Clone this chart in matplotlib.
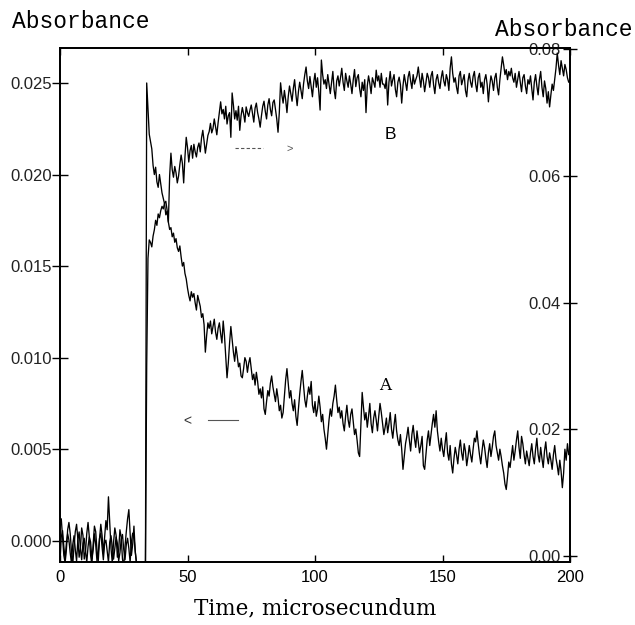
import numpy as np
import matplotlib
matplotlib.use("Agg")
import matplotlib.pyplot as plt
from matplotlib.ticker import FormatStrFormatter

# ---------------- data (absorbance values in units of 1e-4) ----------------
# pre-flash baselines, t = 0 ... 30 us, step 0.5
baseline_time = np.arange(0, 30.01, 0.5)
a_baseline_e4 = [8, 12, 2, -8, -12, -5, 6, 10, 4, -6,
                 -13, -3, 5, 9, 1, -9, -4, 7, 3, -10,
                 -6, 4, 10, 2, -8, -13, -2, 8, 5, -5,
                 -11, 1, 9, 3, -7, 2, 11, 6, 24, 10,
                 -4, -12, -1, 7, 3, -9, -5, 6, 2, -10,
                 -14, -3, 5, 12, 17, 4, -8, -2, 8, -6,
                 -12]
b_baseline_e4 = [-10, 30, 40, 15, -5, 20, 35, 25, 5, -12,
                 18, 32, 10, -8, 25, 38, 12, -6, 20, 28,
                 8, -10, 15, 30, 22, -4, 10, 35, 18, -8,
                 5, 28, 36, 14, -6, 20, 25, 8, -10, 22,
                 32, 15, -5, 12, 30, 20, -8, 5, 26, 34,
                 10, -6, 18, 28, 12, -10, 22, 36, 30, 8,
                 -12]

# transients after the flash, t = 33.5 ... 200 us, step 0.5
time = np.arange(33.5, 200.01, 0.5)
# curve A (left axis)
a_e4 = [-20,
        250, 236, 222, 218, 214, 205, 200, 204, 196, 193, 200, 195, 190, 187, 184, 178, 180, 174, 170, 171,
        166, 168, 163, 165, 160, 158, 161, 155, 150, 152, 146, 143, 138, 134, 131, 136, 133, 135, 130, 126,
        134, 131, 128, 122, 124, 118, 103, 112, 119, 116, 120, 113, 117, 121, 114, 110, 116, 119, 113, 108,
        120, 112, 100, 89, 97, 108, 117, 110, 103, 98, 106, 101, 95, 97, 90, 89, 94, 100, 98, 92,
        97, 100, 94, 88, 91, 85, 92, 87, 80, 83, 78, 84, 72, 69, 76, 82, 79, 86, 90, 84,
        80, 76, 83, 78, 71, 74, 67, 70, 79, 88, 94, 86, 78, 82, 75, 71, 77, 68, 63, 72,
        80, 87, 93, 85, 77, 73, 79, 84, 80, 87, 74, 70, 76, 68, 72, 79, 73, 65, 69, 61,
        56, 50, 58, 66, 72, 68, 75, 79, 85, 77, 70, 73, 67, 71, 64, 60, 68, 74, 66, 62,
        69, 72, 65, 58, 61, 55, 48, 46, 63, 81, 73, 66, 70, 62, 68, 75, 64, 59, 67, 71,
        66, 60, 68, 75, 70, 64, 58, 62, 67, 59, 64, 70, 61, 56, 63, 69, 60, 55, 52, 58,
        50, 39, 46, 53, 57, 62, 55, 49, 58, 63, 56, 51, 60, 54, 48, 52, 57, 41, 39, 47,
        55, 60, 52, 58, 64, 69, 62, 71, 60, 54, 49, 56, 50, 46, 53, 59, 48, 44, 52, 42,
        37, 45, 51, 47, 42, 50, 55, 48, 44, 53, 49, 41, 46, 52, 47, 43, 50, 56, 54, 60,
        53, 47, 42, 49, 55, 51, 45, 40, 48, 53, 46, 51, 57, 60, 52, 48, 44, 50, 46, 41,
        37, 31, 28, 35, 43, 40, 46, 52, 44, 49, 55, 60, 51, 45, 57, 53, 47, 42, 49, 45,
        41, 48, 53, 46, 42, 50, 56, 47, 43, 51, 45, 40, 49, 54, 46, 42, 48, 44, 39, 47,
        52, 45, 41, 36, 44, 38, 29, 37, 50, 44, 53, 47, 48]
# curve B (right axis)
b_e4 = [-20,
        300, 470, 499, 495, 488, 505, 515, 530, 522, 540, 534, 545, 552, 548, 557, 560, 546, 527, 600, 636,
        610, 598, 615, 605, 589, 600, 618, 633, 620, 589, 630, 661, 645, 622, 640, 648, 628, 650, 638, 630,
        645, 652, 638, 660, 672, 655, 636, 650, 664, 670, 683, 668, 675, 690, 678, 665, 684, 700, 717, 698,
        705, 690, 710, 682, 695, 700, 661, 731, 712, 690, 703, 688, 710, 672, 695, 708, 698, 685, 709, 700,
        694, 704, 712, 698, 685, 707, 715, 700, 690, 677, 695, 710, 718, 702, 690, 712, 722, 705, 695, 716,
        720, 705, 690, 669, 700, 747, 728, 715, 735, 720, 700, 725, 742, 730, 718, 738, 752, 729, 711, 733,
        748, 735, 722, 745, 760, 772, 750, 738, 757, 741, 725, 748, 762, 740, 755, 732, 704, 783, 760, 745,
        752, 738, 760, 745, 730, 748, 765, 736, 722, 750, 758, 742, 755, 770, 748, 735, 762, 750, 740, 758,
        745, 730, 752, 768, 741, 755, 760, 738, 725, 748, 735, 752, 700, 742, 758, 746, 730, 755, 748, 740,
        767, 750, 758, 740, 762, 745, 745, 738, 755, 712, 748, 765, 742, 752, 760, 737, 725, 748, 756, 744,
        715, 742, 760, 748, 735, 756, 765, 750, 738, 760, 745, 752, 758, 772, 755, 740, 762, 750, 733, 748,
        762, 755, 740, 758, 765, 744, 730, 752, 760, 747, 738, 755, 766, 750, 742, 760, 752, 735, 770, 788,
        762, 748, 755, 740, 730, 758, 765, 744, 752, 760, 735, 725, 750, 762, 748, 740, 757, 765, 745, 733,
        755, 762, 740, 748, 730, 752, 760, 745, 717, 742, 758, 750, 735, 755, 762, 740, 728, 752, 770, 788,
        775, 760, 768, 752, 765, 758, 770, 755, 748, 762, 740, 752, 765, 748, 733, 755, 760, 742, 730, 752,
        745, 758, 738, 720, 748, 760, 742, 728, 752, 765, 740, 725, 750, 738, 715, 733, 709, 728, 745, 735,
        752, 770, 794, 775, 760, 782, 770, 758, 776, 768, 755, 748, 748]

x_ticks = [0, 50, 100, 150, 200]
left_ticks = [0.000, 0.005, 0.010, 0.015, 0.020, 0.025]
right_ticks = [0.00, 0.02, 0.04, 0.06, 0.08]

# ---------------- figure ----------------
SCALE = 1e-4
fig = plt.figure(figsize=(6.35, 6.25), dpi=100)
ax = fig.add_axes([60 / 635, 1 - 562 / 625, 510 / 635, 514 / 625])
ax2 = ax.twinx()

lw = 0.95
ax.plot(baseline_time, np.array(a_baseline_e4) * SCALE, color="black", lw=lw)
ax.plot(time, np.array(a_e4) * SCALE, color="black", lw=lw)
ax2.plot(baseline_time, np.array(b_baseline_e4) * SCALE, color="black", lw=lw)
ax2.plot(time, np.array(b_e4) * SCALE, color="black", lw=lw)

ax.set_xlim(0, 200)
ax.set_ylim(-0.00116, 0.02691)
ax2.set_ylim(-0.00095, 0.0802)

tick_font = dict(family="Liberation Sans", size=12)
ax.set_xticks(x_ticks)
ax.set_xticklabels([str(v) for v in x_ticks], fontdict=tick_font)
ax.set_yticks(left_ticks)
ax.yaxis.set_major_formatter(FormatStrFormatter("%.3f"))
ax2.set_yticks(right_ticks)
ax2.yaxis.set_major_formatter(FormatStrFormatter("%.2f"))
for lab in ax.get_yticklabels():
    lab.set_fontfamily("Liberation Sans")
    lab.set_fontsize(12)
for lab in ax2.get_yticklabels():
    lab.set_fontfamily("Liberation Sans")
    lab.set_fontsize(12)
    lab.set_horizontalalignment("right")

ax.tick_params(axis="x", direction="in", length=5, width=1, top=True, pad=5.5, colors="black")
ax.tick_params(axis="y", direction="inout", length=11, width=1, pad=0.5)
ax2.tick_params(axis="y", direction="inout", length=10, width=1, pad=-11.5)
ax.yaxis.set_tick_params(labelcolor="#222222")
ax2.yaxis.set_tick_params(labelcolor="#222222")

for a in (ax, ax2):
    for s in a.spines.values():
        s.set_linewidth(1.3)
        s.set_color("black")

# axis titles
fig.text(12 / 635, 1 - 28 / 625, "Absorbance", family="Liberation Mono", size=16.5,
         va="baseline", ha="left", color="black")
fig.text(495 / 635, 1 - 36 / 625, "Absorbance", family="Liberation Mono", size=16.5,
         va="baseline", ha="left", color="black")
ax.set_xlabel("Time, microsecundum", family="DejaVu Serif", size=15.5, labelpad=9)

# curve labels and direction markers
ax.text(0.647, 0.831, "B", transform=ax.transAxes, family="Liberation Sans", size=12.5,
        ha="center", va="center")
ax.text(0.637, 0.344, "A", transform=ax.transAxes, family="DejaVu Serif", size=12,
        ha="center", va="center")
ax.plot([0.343, 0.398], [0.805, 0.805], transform=ax.transAxes, color="#555555",
        lw=0.8, ls=(0, (3, 2)))
ax.text(0.451, 0.804, ">", transform=ax.transAxes, family="Liberation Sans", size=8,
        ha="center", va="center", color="#555555")
ax.plot([0.290, 0.349], [0.276, 0.276], transform=ax.transAxes, color="#555555", lw=0.8)
ax.text(0.249, 0.274, "<", transform=ax.transAxes, family="Liberation Sans", size=10,
        ha="center", va="center", color="#333333")

fig.savefig("out.png", dpi=100)
